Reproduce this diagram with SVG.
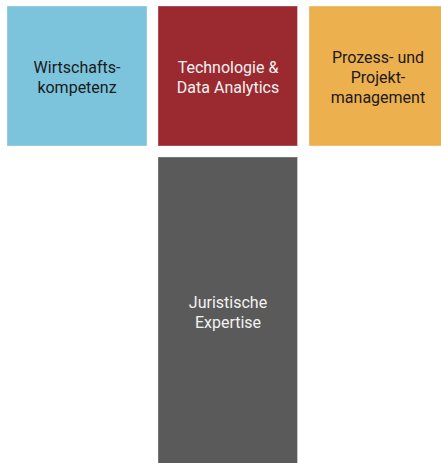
<svg xmlns="http://www.w3.org/2000/svg" width="441" height="463" viewBox="0 0 441 463">
<style>
.box{stroke:#ffffff;stroke-opacity:0.35;stroke-width:1}
.t{font-family:Roboto,"Liberation Sans",sans-serif;font-size:16px;text-anchor:middle}
.dark{fill:#1a1a1a}
.light{fill:#f2f2f2}
</style>
<rect width="441" height="463" fill="#ffffff"/>
<g id="wirtschaft">
<rect class="box" x="7" y="6" width="140" height="140" fill="#7CC3DC"/>
<text class="t dark" x="77" y="73">Wirtschafts-</text>
<text class="t dark" x="77" y="93">kompetenz</text>
</g>
<g id="technologie">
<rect class="box" x="158" y="6" width="139.5" height="140" fill="#9B2A30"/>
<text class="t light" x="228" y="73">Technologie &amp;</text>
<text class="t light" x="228" y="93">Data Analytics</text>
</g>
<g id="prozess">
<rect class="box" x="309" y="6" width="133" height="140" fill="#EDB04F"/>
<text class="t dark" x="378" y="63">Prozess- und</text>
<text class="t dark" x="378" y="83">Projekt-</text>
<text class="t dark" x="378" y="103">management</text>
</g>
<g id="juristisch">
<rect class="box" x="158" y="157" width="139.5" height="307" fill="#5A5A5A"/>
<text class="t light" x="228" y="308">Juristische</text>
<text class="t light" x="228" y="328">Expertise</text>
</g>
<g id="connectors"/>
</svg>
